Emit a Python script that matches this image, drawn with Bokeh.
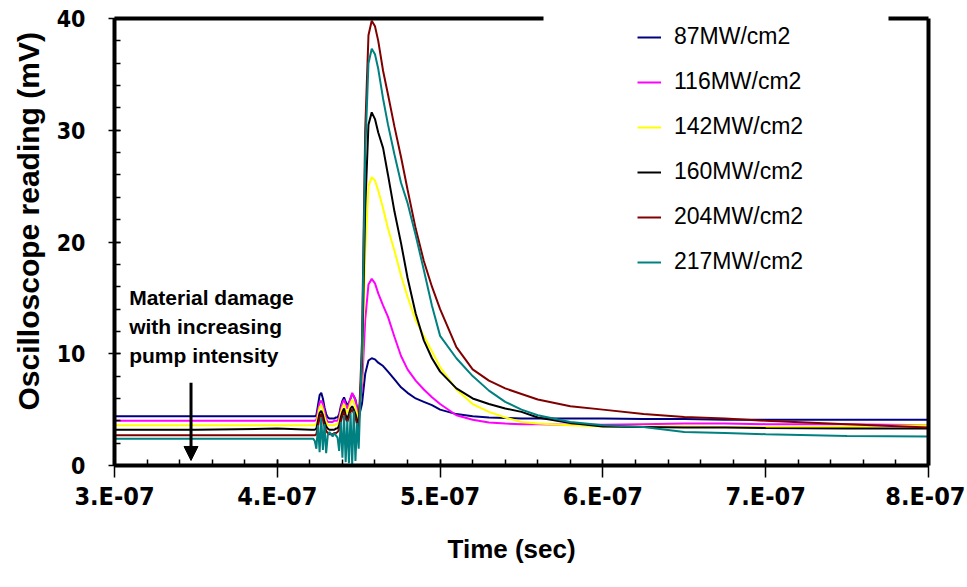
from bokeh.plotting import figure
from bokeh.models import (LinearAxis, FixedTicker, CustomJSTickFormatter, Legend,
                          LegendItem, Range1d, Arrow, NormalHead, Label, Title)
from bokeh.embed import file_html
from bokeh.resources import INLINE

# time in units of 1e-7 s
time_e7 = [3.00, 3.50, 4.00,
           4.21, 4.22, 4.23, 4.24, 4.25, 4.26, 4.27, 4.28, 4.29, 4.30,
           4.31, 4.32, 4.33, 4.34, 4.35, 4.36, 4.37, 4.38, 4.39, 4.40,
           4.41, 4.42, 4.43, 4.44, 4.45, 4.46, 4.47, 4.48, 4.49, 4.50,
           4.52, 4.54, 4.56, 4.58, 4.60, 4.62, 4.65, 4.68, 4.72, 4.76,
           4.80, 4.85, 4.90, 4.95, 5.00, 5.10, 5.20, 5.30, 5.40, 5.50,
           5.60, 5.80, 6.00, 6.25, 6.50, 6.75, 7.00, 7.50, 8.00]
time_s = [t * 1e-7 for t in time_e7]

mv_87 = [4.4, 4.4, 4.4,
         4.4, 4.4, 4.4, 4.5, 5.4, 6.3, 6.5, 6.0, 5.2, 4.6,
         4.3, 4.2, 4.2, 4.2, 4.2, 4.3, 4.3, 4.6, 5.3, 5.8,
         6.1, 5.7, 5.4, 5.6, 6.0, 6.4, 6.2, 5.9, 5.2, 4.3,
         5.5, 8.2, 9.4, 9.6, 9.5, 9.2, 8.9, 8.4, 7.7, 7.0,
         6.5, 6.0, 5.7, 5.4, 5.0, 4.6, 4.4, 4.3, 4.25, 4.2,
         4.2, 4.2, 4.2, 4.15, 4.15, 4.1, 4.1, 4.1, 4.1]
mv_116 = [4.0, 4.0, 4.0,
          4.0, 4.0, 4.0, 4.1, 4.9, 5.6, 5.8, 5.5, 4.8, 4.2,
          3.9, 3.9, 3.9, 3.9, 4.0, 4.0, 4.0, 4.3, 5.0, 5.6,
          5.9, 5.4, 5.1, 5.5, 6.0, 6.5, 6.2, 5.8, 5.0, 4.6,
          7.0, 13.0, 16.2, 16.7, 16.3, 15.4, 14.3, 13.3, 11.5, 9.8,
          8.6, 7.6, 6.8, 6.1, 5.5, 4.5, 4.1, 3.85, 3.75, 3.7,
          3.7, 3.65, 3.65, 3.7, 3.75, 3.75, 3.7, 3.7, 3.6]
mv_142 = [3.6, 3.6, 3.6,
          3.6, 3.6, 3.6, 3.7, 4.5, 5.2, 5.4, 5.0, 4.4, 3.9,
          3.6, 3.6, 3.6, 3.6, 3.6, 3.7, 3.7, 4.0, 4.7, 5.2,
          5.5, 5.0, 4.7, 5.1, 5.6, 5.9, 5.6, 5.2, 4.6, 4.0,
          8.0, 19.0, 25.0, 25.8, 25.5, 24.6, 23.0, 21.2, 19.2, 17.0,
          15.1, 13.0, 11.6, 10.2, 8.8, 6.8, 5.5, 4.8, 4.3, 3.9,
          3.75, 3.6, 3.5, 3.5, 3.5, 3.45, 3.45, 3.5, 3.6]
mv_160 = [3.2, 3.2, 3.3,
          3.2, 3.2, 3.2, 3.3, 4.0, 4.7, 4.9, 4.5, 3.9, 3.5,
          3.3, 3.2, 3.2, 3.2, 3.2, 3.3, 3.3, 3.6, 4.3, 4.8,
          5.1, 4.5, 4.2, 4.6, 5.1, 5.3, 5.0, 4.6, 4.1, 3.6,
          9.0, 23.0, 30.5, 31.6, 31.0, 29.8, 28.4, 26.0, 22.7, 19.9,
          16.8, 13.6, 11.2, 9.6, 8.4, 6.9, 6.0, 5.5, 5.1, 4.8,
          4.3, 3.8, 3.5, 3.45, 3.4, 3.4, 3.35, 3.3, 3.3]
mv_204 = [2.7, 2.7, 2.7,
          2.7, 2.7, 2.7, 2.8, 3.5, 4.3, 4.6, 4.1, 3.5, 3.1,
          2.9, 2.8, 2.8, 2.8, 2.9, 2.9, 3.0, 3.2, 3.9, 4.5,
          4.8, 4.2, 3.9, 4.3, 4.8, 5.0, 4.7, 4.3, 3.7, 3.4,
          11.0, 30.0, 38.5, 39.8, 39.3, 38.0, 35.3, 33.2, 30.3, 27.6,
          24.7, 21.2, 18.3, 16.0, 14.0, 10.6, 8.6, 7.6, 6.9, 6.4,
          5.9, 5.3, 5.0, 4.6, 4.35, 4.2, 4.0, 3.7, 3.4]
mv_217 = [2.4, 2.4, 2.4,
          2.4, 2.4, 2.2, 1.5, 3.6, 1.2, 4.3, 1.4, 3.7, 1.1,
          2.7, 3.0, 2.8, 2.6, 2.9, 2.7, 2.5, 1.3, 3.9, 0.7,
          4.5, 0.3, 4.0, 0.2, 4.7, 0.1, 4.9, 0.4, 3.8, 1.5,
          10.0, 28.0, 36.0, 37.3, 36.8, 35.5, 32.8, 30.5, 27.8, 25.3,
          23.5, 20.6, 17.5, 14.3, 11.6, 9.6, 8.0, 6.7, 5.7, 5.0,
          4.5, 3.9, 3.6, 3.45, 3.0, 2.9, 2.8, 2.65, 2.6]

series_labels = ["87MW/cm2", "116MW/cm2", "142MW/cm2", "160MW/cm2", "204MW/cm2", "217MW/cm2"]
series_values = [mv_87, mv_116, mv_142, mv_160, mv_204, mv_217]
series_colors = ["#000080", "#FF00FF", "#FFFF00", "#000000", "#800000", "#008080"]

x_ticks = [3e-7, 4e-7, 5e-7, 6e-7, 7e-7, 8e-7]
y_ticks = [0, 10, 20, 30, 40]

NARROW = "Liberation Sans Narrow, DejaVu Sans Condensed, sans-serif"
SANS = "Liberation Sans, Arial, sans-serif"

p = figure(width=965, height=587, output_backend="svg", toolbar_location=None,
           x_range=Range1d(3e-7, 8e-7), y_range=Range1d(0, 40),
           min_border_left=112, min_border_right=37, min_border_top=18,
           min_border_bottom=122, x_axis_type=None, y_axis_type=None)
p.grid.visible = False
p.outline_line_color = None
p.background_fill_color = "white"
p.border_fill_color = "white"

x_minor = [(3 + 0.2 * i) * 1e-7 for i in range(26)]
y_minor = [2 * i for i in range(21)]

xaxis = LinearAxis(ticker=FixedTicker(ticks=x_ticks, minor_ticks=x_minor),
                   formatter=CustomJSTickFormatter(code="return Math.round(tick*1e7) + '.E-07';"))
yaxis = LinearAxis(ticker=FixedTicker(ticks=y_ticks, minor_ticks=y_minor))
for ax in (xaxis, yaxis):
    ax.axis_line_width = 4
    ax.axis_line_color = "black"
    ax.major_tick_line_width = 1.5
    ax.minor_tick_line_width = 1.5
    ax.major_tick_in = 6
    ax.minor_tick_in = 6
    ax.minor_tick_out = 0
    ax.major_label_text_font = NARROW
    ax.major_label_text_font_style = "bold"
    ax.major_label_text_color = "black"

xaxis.major_tick_out = 12
xaxis.major_label_standoff = 4
xaxis.major_label_text_font_size = "25px"

yaxis.major_tick_out = 6
yaxis.major_label_standoff = 23
yaxis.major_label_text_font_size = "23px"

p.add_layout(xaxis, "below")
p.add_layout(yaxis, "left")

ytitle = Title(text="Oscilloscope reading (mV)", align="left", offset=55,
               text_font=SANS, text_font_style="bold", text_font_size="30px",
               text_color="black", standoff=18)
p.add_layout(ytitle, "left")
xtitle = Title(text="Time (sec)", align="left", offset=333,
               text_font=SANS, text_font_style="bold", text_font_size="26px",
               text_color="black", standoff=36)
p.add_layout(xtitle, "below")

def border_axis(bounds=None):
    b = LinearAxis(ticker=FixedTicker(ticks=[]), major_label_text_font_size="0px")
    if bounds is not None:
        b.bounds = bounds
    b.axis_line_width = 4
    b.axis_line_color = "black"
    b.major_tick_out = 0
    b.major_tick_in = 0
    b.minor_tick_out = 0
    b.minor_tick_in = 0
    return b

p.add_layout(border_axis(), "right")
p.add_layout(border_axis((3e-7, 5.635e-7)), "above")
p.add_layout(border_axis((7.755e-7, 8e-7)), "above")

items = []
for lab, vals, col in zip(series_labels, series_values, series_colors):
    r = p.line(time_s, vals, line_color=col, line_width=2)
    items.append(LegendItem(label=lab, renderers=[r]))

legend = Legend(items=items, location=(523, 190), padding=0, spacing=18,
                glyph_width=24, glyph_height=20, label_standoff=13,
                label_text_font=SANS, label_text_font_size="23px",
                label_text_color="black",
                background_fill_color="white", background_fill_alpha=1.0,
                border_line_color=None)
p.add_layout(legend)

note = Label(x=3.09e-7, y=16.05, text="Material damage\nwith increasing\npump intensity",
             text_font=SANS, text_font_style="bold", text_font_size="21px",
             text_baseline="top", text_line_height=1.25, text_color="black")
p.add_layout(note)

arrow = Arrow(end=NormalHead(size=14, fill_color="black", line_color="black"),
              x_start=3.47e-7, y_start=7.4, x_end=3.47e-7, y_end=0.45,
              line_width=3, line_color="black")
p.add_layout(arrow)

open("out.html", "w").write(file_html(p, INLINE))
